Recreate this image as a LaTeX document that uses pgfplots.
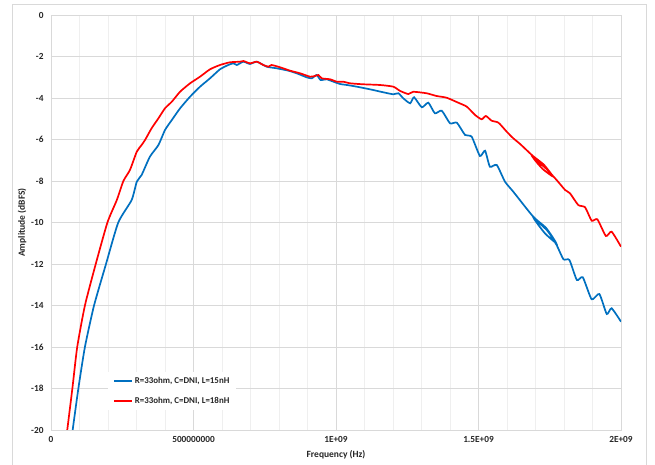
\documentclass[border=0pt]{standalone}
\usepackage{fontspec}
\setmainfont{Carlito}
\usepackage{pgfplots}
\pgfplotsset{compat=1.18}
\definecolor{exblue}{HTML}{0070C0}
\definecolor{exred}{HTML}{FF0000}
\definecolor{gridgray}{HTML}{D9D9D9}
\definecolor{minorgray}{HTML}{EFEFEF}
\definecolor{txt}{HTML}{262626}
\begin{document}
\begin{tikzpicture}
\useasboundingbox (0pt,0pt) rectangle (655pt,465pt);
\fill[white] (0pt,0pt) rectangle (655pt,465pt);
\draw[gridgray, line width=0.8pt] (12.5pt,0pt) -- (12.5pt,460.5pt) -- (646.5pt,460.5pt) -- (646.5pt,0pt);
\begin{axis}[
  at={(51pt,35pt)}, anchor=south west,
  scale only axis, width=570pt, height=415pt,
  xmin=0, xmax=2, ymin=-20, ymax=0,
  xtick={0,0.5,1,1.5,2},
  xticklabels={0,500000000,1E+09,1.5E+09,2E+09},
  minor xtick={0.1,0.2,0.3,0.4,0.6,0.7,0.8,0.9,1.1,1.2,1.3,1.4,1.6,1.7,1.8,1.9},
  ytick={-20,-18,-16,-14,-12,-10,-8,-6,-4,-2,0},
  yticklabels={-20,-18,-16,-14,-12,-10,-8,-6,-4,-2,0},
  tick style={draw=none},
  xmajorgrids, ymajorgrids, xminorgrids,
  major grid style={gridgray, line width=0.8pt},
  minor grid style={minorgray, line width=0.8pt},
  axis line style={gridgray, line width=0.8pt},
  tick label style={font=\fontsize{9.3}{11}\selectfont\bfseries, text=txt},
  xticklabel style={yshift=-3pt},
  yticklabel style={xshift=-4pt},
  label style={font=\fontsize{9.5}{11}\selectfont\bfseries, text=txt},
  xlabel={Frequency (Hz)},
  ylabel={Amplitude (dBFS)},
  xlabel style={at={(axis description cs:0.5,-0.060)}, anchor=center},
  ylabel style={at={(axis description cs:-0.0509,0.5)}, anchor=center},
  legend style={at={(axis description cs:0.1,0.1398)}, anchor=north west,
    draw=none, fill=white, font=\fontsize{8.9}{11}\selectfont\bfseries, text=txt,
    inner xsep=5pt, inner ysep=3pt, row sep=8pt},
  legend cell align=left,
  legend image code/.code={\draw[#1] (0pt,0pt) -- (18pt,0pt);},
  every axis plot/.append style={line width=1.7pt, smooth, tension=0.35},
]
\addplot[exblue] coordinates {
  (0.076,-20) (0.096,-18) (0.119,-16) (0.151,-14) (0.193,-12) (0.236,-10)
  (0.283,-8.916) (0.301,-8.034) (0.318,-7.711) (0.347,-6.829) (0.377,-6.265)
  (0.400,-5.542) (0.424,-5.060) (0.453,-4.496) (0.488,-3.937) (0.523,-3.455)
  (0.558,-3.051) (0.593,-2.617) (0.622,-2.410) (0.640,-2.328) (0.652,-2.410)
  (0.675,-2.251) (0.698,-2.361) (0.722,-2.251) (0.757,-2.492) (0.792,-2.569)
  (0.833,-2.684) (0.862,-2.810) (0.897,-3.002) (0.915,-3.051) (0.932,-2.892)
  (0.946,-3.133) (0.967,-3.099) (0.991,-3.214) (1.014,-3.325) (1.038,-3.373)
  (1.073,-3.455) (1.119,-3.581) (1.166,-3.725) (1.201,-3.822) (1.219,-3.773)
  (1.236,-4.014) (1.260,-4.255) (1.274,-3.966) (1.301,-4.448) (1.324,-4.227)
  (1.347,-4.737) (1.371,-4.612) (1.400,-5.219) (1.424,-5.190) (1.453,-5.783)
  (1.476,-5.865) (1.505,-6.795) (1.523,-6.540) (1.540,-7.311) (1.564,-7.229)
  (1.593,-8.034) (1.622,-8.516) (1.692,-9.720) (1.737,-10.26) (1.772,-10.98)
  (1.733,-10.52) (1.695,-9.82) (1.742,-10.40) (1.774,-11.084) (1.798,-11.773)
  (1.819,-11.807) (1.845,-12.771)
  (1.866,-12.641) (1.897,-13.701) (1.924,-13.446) (1.950,-14.410) (1.967,-14.135)
  (2.000,-14.781)
};
\addlegendentry{R=33ohm, C=DNI, L=15nH}
\addplot[exred] coordinates {
  (0.057,-20) (0.075,-18) (0.092,-16) (0.119,-14) (0.157,-12) (0.198,-10)
  (0.231,-8.916) (0.254,-8.0) (0.277,-7.47) (0.301,-6.588) (0.318,-6.265)
  (0.330,-6.024) (0.353,-5.46) (0.377,-4.978) (0.400,-4.496) (0.424,-4.178)
  (0.453,-3.696) (0.488,-3.292) (0.523,-2.973) (0.558,-2.617) (0.593,-2.410)
  (0.628,-2.280) (0.663,-2.251) (0.675,-2.217) (0.698,-2.328) (0.722,-2.251)
  (0.745,-2.410) (0.763,-2.492) (0.774,-2.410) (0.804,-2.520) (0.839,-2.684)
  (0.874,-2.810) (0.909,-2.973) (0.926,-2.940) (0.938,-2.892) (0.950,-3.051)
  (0.979,-3.099) (1.003,-3.214) (1.026,-3.214) (1.049,-3.292) (1.096,-3.340)
  (1.154,-3.373) (1.201,-3.455) (1.225,-3.66) (1.254,-3.81) (1.271,-3.70)
  (1.318,-3.773) (1.353,-3.904) (1.388,-3.986) (1.429,-4.227) (1.459,-4.419)
  (1.488,-4.819) (1.511,-5.027) (1.526,-4.867) (1.546,-5.094) (1.570,-5.190)
  (1.599,-5.624) (1.622,-5.942) (1.646,-6.217) (1.691,-6.795) (1.729,-7.21)
  (1.761,-7.78) (1.725,-7.42) (1.694,-6.92) (1.737,-7.40) (1.774,-7.952)
  (1.804,-8.434) (1.821,-8.593)
  (1.850,-9.157) (1.874,-9.267) (1.897,-9.913) (1.917,-9.846) (1.947,-10.651)
  (1.967,-10.443) (2.000,-11.166)
};
\addlegendentry{R=33ohm, C=DNI, L=18nH}
\end{axis}
\end{tikzpicture}
\end{document}
